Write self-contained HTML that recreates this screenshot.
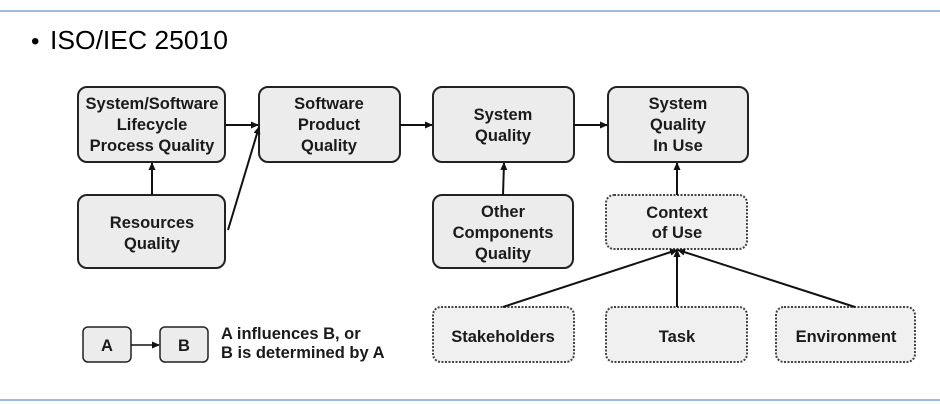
<!DOCTYPE html>
<html><head><meta charset="utf-8"><style>
html,body{margin:0;padding:0;background:#fff;width:940px;height:404px;overflow:hidden}
</style></head><body>
<svg width="940" height="404" viewBox="0 0 940 404" xmlns="http://www.w3.org/2000/svg">
<defs>
<marker id="ah" markerWidth="8" markerHeight="8" refX="7" refY="4" orient="auto" markerUnits="userSpaceOnUse">
<path d="M0,0.5 L8,4 L0,7.5 z" fill="#111"/></marker>
</defs>
<line x1="0" y1="11" x2="940" y2="11" stroke="#7aa6d6" stroke-width="1.5"/>
<line x1="0" y1="400" x2="940" y2="400" stroke="#7aa6d6" stroke-width="1.5"/>
<text x="31" y="49" font-family="Liberation Sans, sans-serif" font-size="24" fill="#000">•</text>
<text x="50" y="49" font-family="Liberation Sans, sans-serif" font-size="26" fill="#000" textLength="178" lengthAdjust="spacingAndGlyphs">ISO/IEC 25010</text>
<g fill="#ececec" stroke="#222" stroke-width="2">
<rect x="78" y="87" width="147" height="75" rx="9"/>
<rect x="259" y="87" width="141" height="75" rx="9"/>
<rect x="433" y="87" width="141" height="75" rx="9"/>
<rect x="608" y="87" width="140" height="75" rx="9"/>
<rect x="78" y="195" width="147" height="73" rx="9"/>
<rect x="433" y="195" width="140" height="73" rx="9"/>
<rect x="83" y="327" width="48" height="35" rx="5" stroke-width="1.5"/>
<rect x="160" y="327" width="48" height="35" rx="5" stroke-width="1.5"/>
</g>
<g fill="#f0f0f0" stroke="#444" stroke-width="2" stroke-dasharray="2,1.5">
<rect x="606" y="195" width="141" height="54" rx="8"/>
<rect x="433" y="307" width="141" height="55" rx="8"/>
<rect x="606" y="307" width="141" height="55" rx="8"/>
<rect x="776" y="307" width="139" height="55" rx="8"/>
</g>
<g stroke="#111" stroke-width="2" fill="none" marker-end="url(#ah)">
<line x1="225" y1="125" x2="258" y2="125"/>
<line x1="228" y1="230" x2="259" y2="127"/>
<line x1="152" y1="195" x2="152" y2="163"/>
<line x1="400" y1="125" x2="432" y2="125"/>
<line x1="574" y1="125" x2="607" y2="125"/>
<line x1="503" y1="195" x2="504" y2="163"/>
<line x1="677" y1="195" x2="677" y2="163"/>
<line x1="503" y1="307" x2="677" y2="250"/>
<line x1="677" y1="307" x2="677" y2="250"/>
<line x1="855" y1="307" x2="678" y2="250"/>
<line x1="131" y1="345" x2="159" y2="345" stroke-width="1.5"/>
</g>
<g font-family="Liberation Sans, sans-serif" font-weight="bold" font-size="16.5" fill="#1a1a1a" text-anchor="middle">
<text x="152" y="109">System/Software</text>
<text x="152" y="130">Lifecycle</text>
<text x="152" y="151">Process Quality</text>
<text x="329" y="109">Software</text>
<text x="329" y="130">Product</text>
<text x="329" y="151">Quality</text>
<text x="503" y="120">System</text>
<text x="503" y="141">Quality</text>
<text x="678" y="109">System</text>
<text x="678" y="130">Quality</text>
<text x="678" y="151">In Use</text>
<text x="152" y="228">Resources</text>
<text x="152" y="249">Quality</text>
<text x="503" y="217">Other</text>
<text x="503" y="238">Components</text>
<text x="503" y="259">Quality</text>
<text x="677" y="218">Context</text>
<text x="677" y="238">of Use</text>
<text x="503" y="342">Stakeholders</text>
<text x="677" y="342">Task</text>
<text x="846" y="342">Environment</text>
<text x="107" y="351">A</text>
<text x="184" y="351">B</text>
</g>
<g font-family="Liberation Sans, sans-serif" font-weight="bold" font-size="16.5" fill="#1a1a1a">
<text x="221" y="339">A influences B, or</text>
<text x="221" y="358">B is determined by A</text>
</g>
</svg>
</body></html>
